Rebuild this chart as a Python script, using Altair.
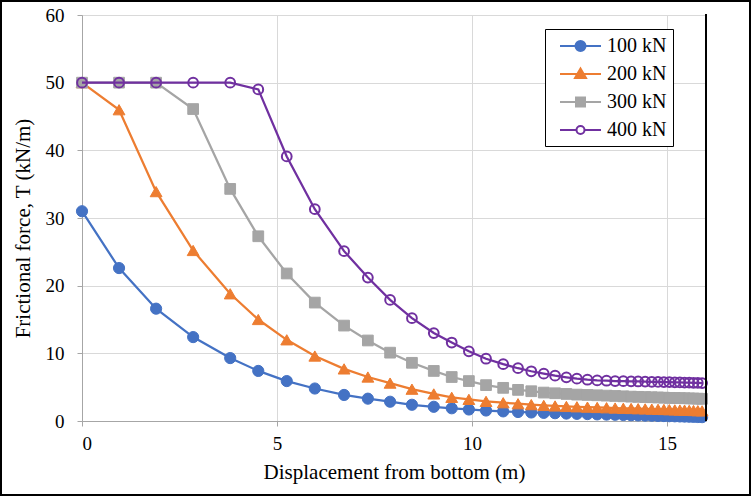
import altair as alt
import pandas as pd

# ---------------- data ----------------
x_disp = [0, 0.95, 1.9, 2.85, 3.8, 4.52, 5.25, 5.97, 6.72, 7.33,
          7.9, 8.46, 9.02, 9.48, 9.92, 10.36, 10.8, 11.18, 11.52, 11.84,
          12.13, 12.42, 12.69, 12.96, 13.21, 13.45, 13.67, 13.88, 14.08, 14.26,
          14.44, 14.61, 14.77, 14.92, 15.06, 15.2, 15.33, 15.45, 15.57, 15.68,
          15.79, 15.9]

t_100 = [31.0, 22.6, 16.6, 12.4, 9.3, 7.4, 5.9, 4.8, 3.85, 3.3,
         2.85, 2.4, 2.1, 1.88, 1.7, 1.55, 1.42, 1.33, 1.26, 1.2,
         1.15, 1.1, 1.06, 1.02, 0.98, 0.95, 0.92, 0.89, 0.86, 0.83,
         0.8, 0.78, 0.75, 0.73, 0.71, 0.69, 0.67, 0.65, 0.63, 0.61,
         0.59, 0.57]

t_200 = [50, 46.0, 33.9, 25.2, 18.8, 15.0, 12.0, 9.6, 7.7, 6.5,
         5.6, 4.7, 4.0, 3.5, 3.2, 2.9, 2.7, 2.55, 2.42, 2.3,
         2.22, 2.15, 2.1, 2.05, 2.0, 1.96, 1.92, 1.88, 1.85, 1.82,
         1.79, 1.76, 1.73, 1.7, 1.67, 1.64, 1.62, 1.6, 1.57, 1.55,
         1.52, 1.5]

t_300 = [50, 50, 50, 46.1, 34.3, 27.3, 21.8, 17.5, 14.1, 11.9,
         10.1, 8.6, 7.4, 6.5, 5.9, 5.3, 4.9, 4.6, 4.4, 4.2,
         4.1, 4.0, 3.9, 3.85, 3.8, 3.75, 3.7, 3.65, 3.6, 3.57,
         3.54, 3.51, 3.48, 3.45, 3.42, 3.4, 3.38, 3.36, 3.34, 3.32,
         3.3, 3.28]

t_400 = [50, 50, 50, 50, 50, 49.0, 39.1, 31.3, 25.1, 21.2,
         17.9, 15.2, 13.0, 11.6, 10.3, 9.2, 8.4, 7.8, 7.35, 7.0,
         6.7, 6.45, 6.25, 6.1, 6.0, 5.95, 5.9, 5.88, 5.86, 5.84,
         5.82, 5.8, 5.78, 5.76, 5.74, 5.72, 5.7, 5.68, 5.66, 5.64,
         5.62, 5.6]

series_names = ["100 kN", "200 kN", "300 kN", "400 kN"]
x_ticks = [0, 5, 10, 15]
y_ticks = [0, 10, 20, 30, 40, 50, 60]

# ---------------- styles ----------------
colors = ["#4472C4", "#ED7D31", "#A5A5A5", "#7030A0"]
fills = ["#4472C4", "#ED7D31", "#A5A5A5", "transparent"]
shapes = ["circle", "triangle-up", "square", "circle"]
marker_size = {"100 kN": 125, "200 kN": 140, "300 kN": 115, "400 kN": 95}
marker_sw = {"100 kN": 1, "200 kN": 1, "300 kN": 1, "400 kN": 2}

FONT = "Liberation Serif"
AXIS_GRAY = "#A6A6A6"
GRID_GRAY = "#D9D9D9"

rows = []
for name, vals in zip(series_names, [t_100, t_200, t_300, t_400]):
    for xv, yv in zip(x_disp, vals):
        rows.append({"x": xv, "T": yv, "series": name})
df = pd.DataFrame(rows)

# legend symbols: a line through the marker (custom SVG paths)
legend_shapes = [
    "M -0.2 0 H 3.9 M 1.35 0 A 0.5 0.5 0 1 1 2.35 0 A 0.5 0.5 0 1 1 1.35 0 Z",
    "M -0.2 0 H 3.9 M 1.85 -0.55 L 2.4 0.4 L 1.3 0.4 Z",
    "M -0.2 0 H 3.9 M 1.4 -0.45 H 2.3 V 0.45 H 1.4 Z",
    "M -0.2 0 H 1.45 M 2.25 0 H 3.9 M 1.45 0 A 0.4 0.4 0 1 1 2.25 0 A 0.4 0.4 0 1 1 1.45 0 Z",
]

legend = alt.Legend(
    title=None, orient="none", legendX=463, legendY=14,
    labelFont=FONT, labelFontSize=20, labelColor="black", labelOffset=34,
    padding=6, rowPadding=7, strokeColor="black", fillColor="white",
    symbolSize=400, symbolStrokeWidth=2,
)

stroke_scale = alt.Scale(domain=series_names, range=colors)
fill_scale = alt.Scale(domain=series_names, range=fills)
shape_scale = alt.Scale(domain=series_names, range=shapes)
legend_shape_scale = alt.Scale(domain=series_names, range=legend_shapes)

axis_common = dict(labelFont=FONT, titleFont=FONT, labelFontSize=19, titleFontSize=21,
                   labelColor="black", titleColor="black", titleFontWeight="normal",
                   domainColor=AXIS_GRAY, tickColor=AXIS_GRAY, gridColor=GRID_GRAY,
                   domainWidth=1, tickWidth=1, gridWidth=1, tickSize=5, grid=True)

x_enc = alt.X("x:Q", scale=alt.Scale(domain=[0, 16], nice=False, zero=False),
              axis=alt.Axis(values=x_ticks, title="Displacement from bottom (m)",
                            titleX=312, titleY=57, titleBaseline="alphabetic",
                            labelPadding=8, **axis_common))
y_enc = alt.Y("T:Q", scale=alt.Scale(domain=[0, 60], nice=False),
              axis=alt.Axis(values=y_ticks, title="Frictional force, T (kN/m)",
                            titleX=-59, titleY=213, titleAngle=-90,
                            titleAlign="center", titleBaseline="middle",
                            labelPadding=13, **axis_common))

base = alt.Chart(df)
layers = []
for name in series_names:
    sub = base.transform_filter(alt.datum.series == name)
    line = sub.mark_line(strokeWidth=2.25).encode(
        x=x_enc, y=y_enc,
        stroke=alt.Stroke("series:N", scale=stroke_scale, legend=None),
    )
    pts = sub.mark_point(size=marker_size[name], strokeWidth=marker_sw[name], opacity=1).encode(
        x=x_enc, y=y_enc,
        stroke=alt.Stroke("series:N", scale=stroke_scale, legend=None),
        fill=alt.Fill("series:N", scale=fill_scale, legend=None),
        shape=alt.Shape("series:N", scale=shape_scale, legend=None),
    )
    layers += [line, pts]

# legend-only layer (drawn off-canvas and clipped; it only feeds the legend)
legend_layer = alt.Chart(alt.Data(values=[{"series": n} for n in series_names])).mark_point(
    size=400, strokeWidth=2, opacity=1, clip=True
).encode(
    x=alt.value(-500), y=alt.value(-500),
    stroke=alt.Stroke("series:N", scale=stroke_scale, legend=legend),
    fill=alt.Fill("series:N", scale=fill_scale, legend=legend),
    shape=alt.Shape("series:N", scale=legend_shape_scale, legend=legend),
)

one = alt.Data(values=[{}])
right_edge = alt.Chart(one).mark_rule(color="black", strokeWidth=2).encode(
    x=alt.value(624), y=alt.value(-1), y2=alt.value(406))
frame = alt.Chart(one).mark_rect(fill=None, stroke="black", strokeWidth=2).encode(
    x=alt.value(-81), x2=alt.value(668), y=alt.value(-14), y2=alt.value(480))

chart = alt.layer(*layers, right_edge, frame, legend_layer).resolve_scale(
    stroke="independent", fill="independent", shape="independent"
).resolve_legend(
    stroke="independent", fill="independent", shape="independent"
).properties(
    width=624, height=406,
    autosize=alt.AutoSizeParams(type="none"),
    padding={"left": 82, "top": 15, "right": 46, "bottom": 76},
    background="white",
).configure_view(stroke=None).configure(font=FONT).configure_axis(**axis_common)

chart.save("out.html", embed_options={"renderer": "svg", "actions": False})
